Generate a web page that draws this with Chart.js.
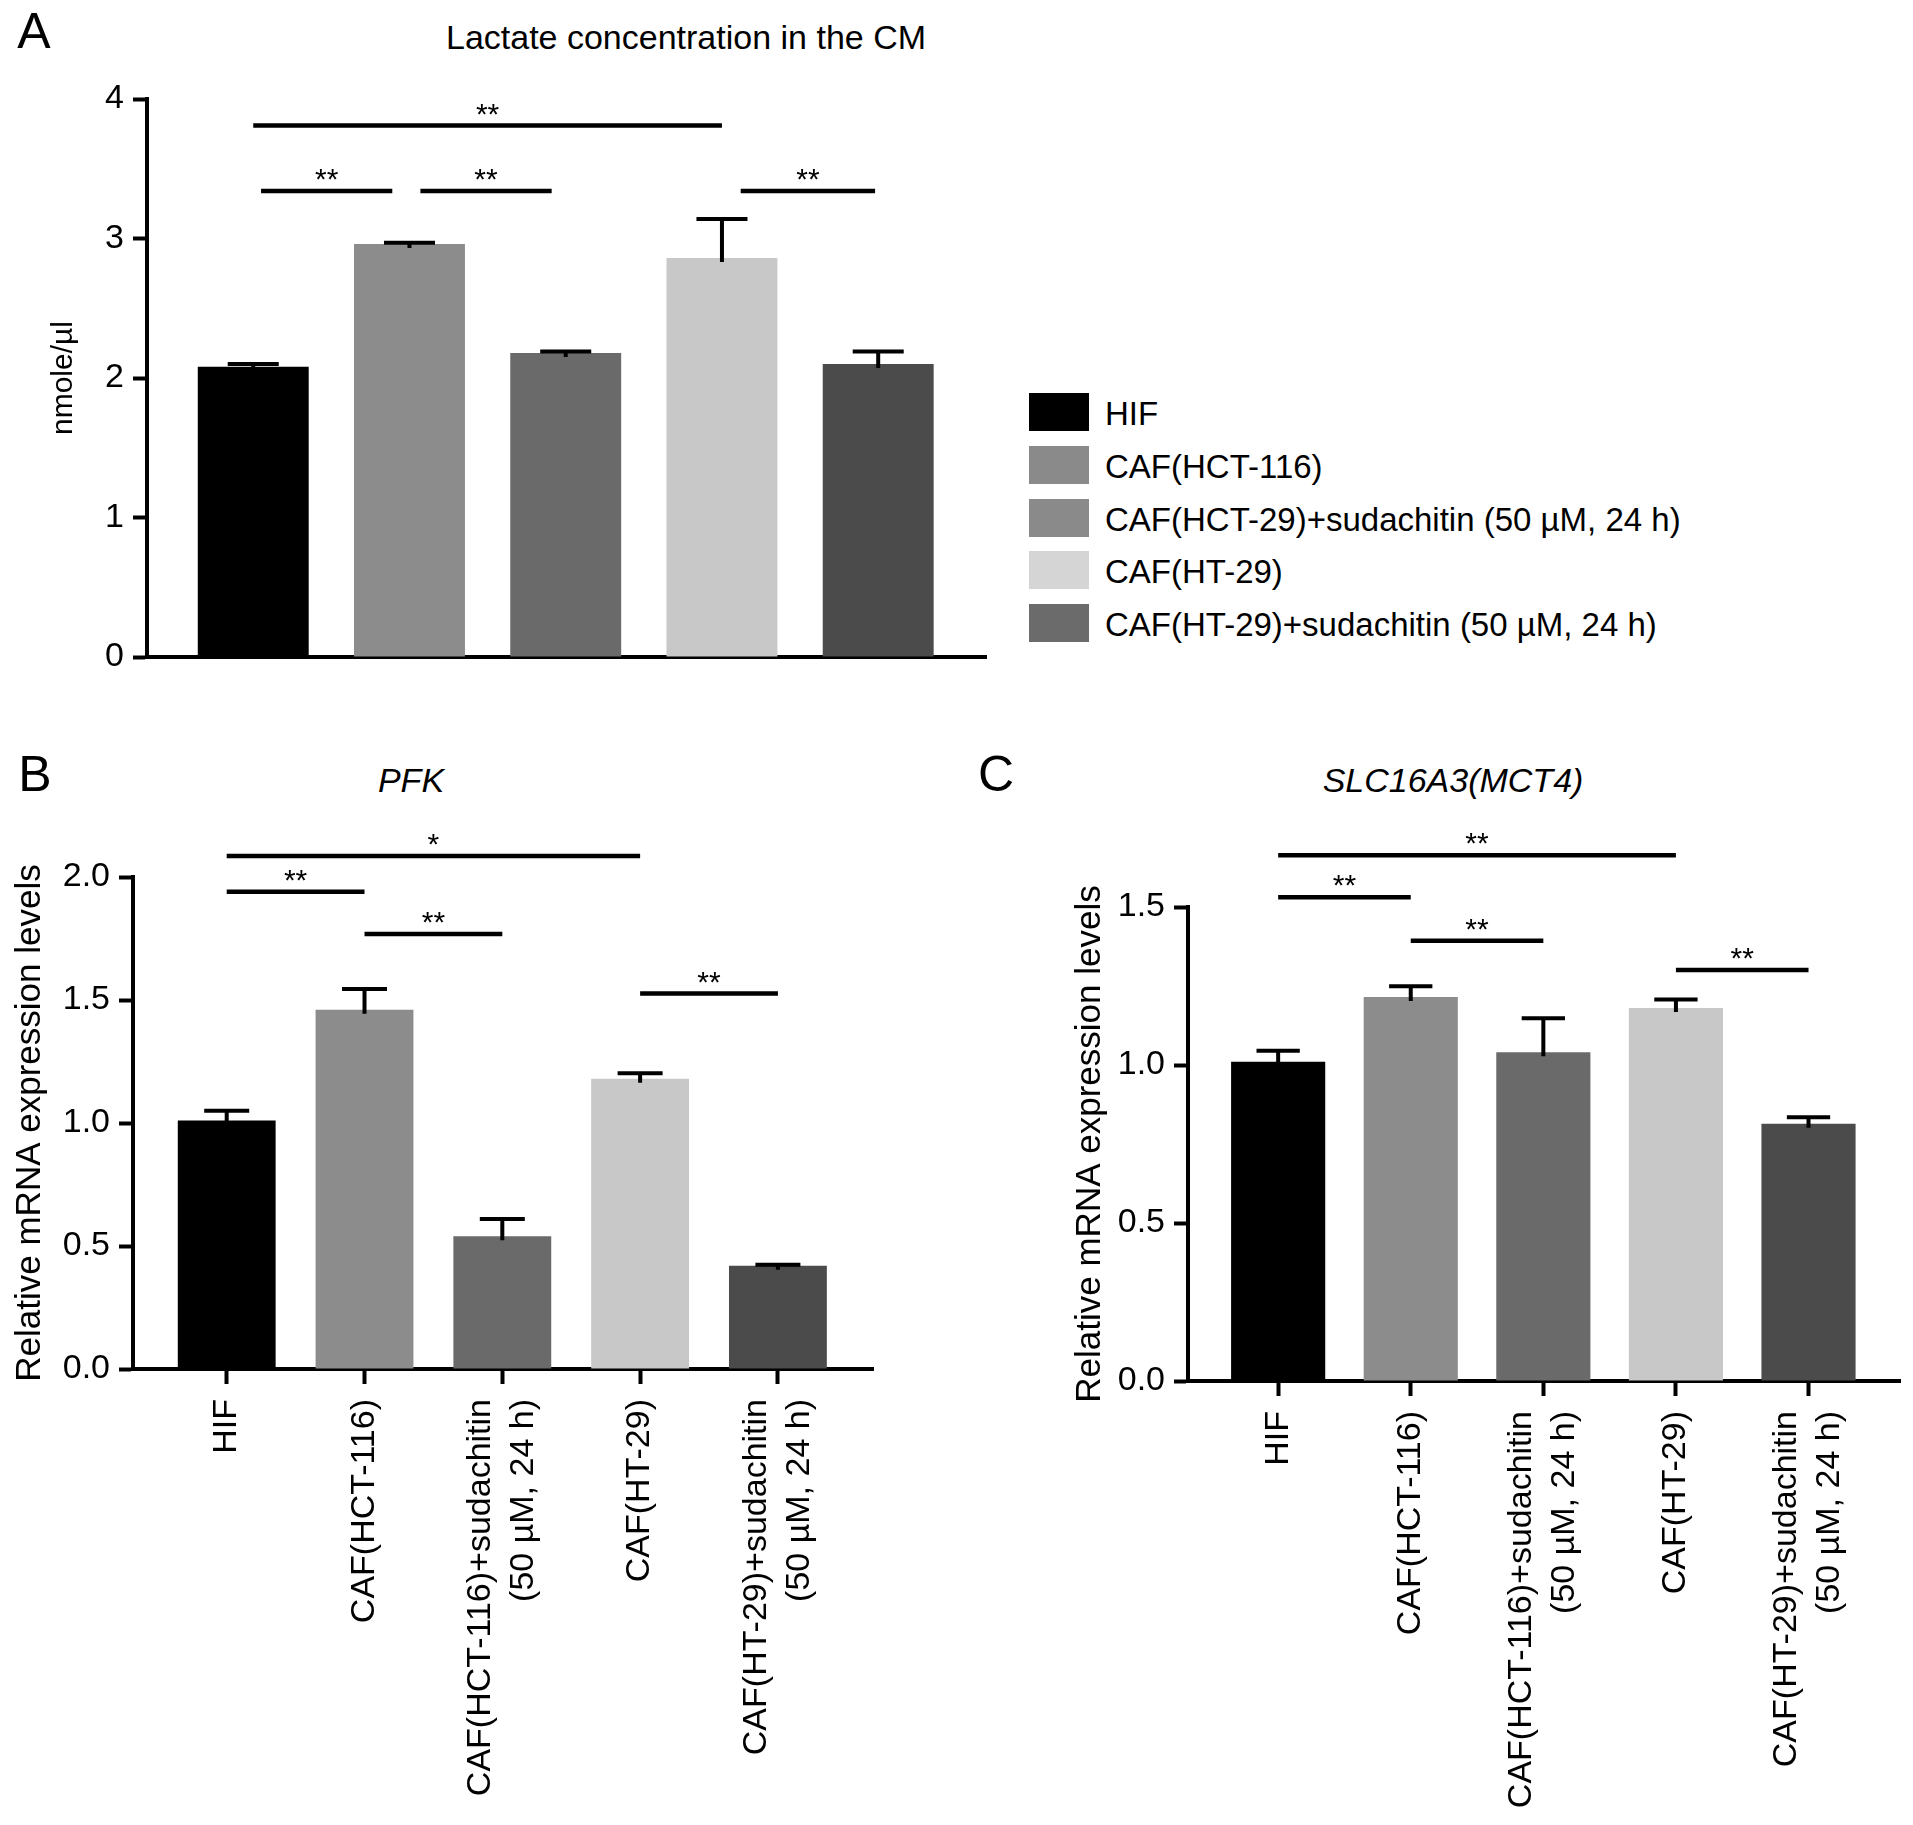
<!DOCTYPE html>
<html>
<head>
<meta charset="utf-8">
<script src="https://cdn.jsdelivr.net/npm/chart.js@4.4.0/dist/chart.umd.min.js"></script>
<style>
    body { margin: 0; background: #fff; }
    #page { position: relative; width: 1913px; height: 1825px; font-family: "Liberation Sans", Arial, Helvetica, sans-serif; color: #000; overflow: hidden; }
    #page canvas { position: absolute; }
    .txt { position: absolute; transform: translate(-50%, -50%); line-height: 1; white-space: nowrap; }
    .letter { font-size: 50px; }
    .title { font-size: 34px; }
    .title i { font-style: italic; }
    .leg-box { position: absolute; width: 60px; height: 38px; }
    .leg-txt { position: absolute; font-size: 33px; line-height: 38px; white-space: nowrap; }
</style>
</head>
<body>
<div id="page">
    <div class="txt letter" style="left:34px; top:31px;">A</div>
    <div class="txt title" style="left:686px; top:37px;">Lactate concentration in the CM</div>
    <div class="txt letter" style="left:35px; top:774px;">B</div>
    <div class="txt title" style="left:411px; top:780px;"><i>PFK</i></div>
    <div class="txt letter" style="left:996px; top:774px;">C</div>
    <div class="txt title" style="left:1453px; top:780px;"><i>SLC16A3(MCT4)</i></div>

    <canvas id="chartA" width="1000" height="700" style="left:0; top:0; width:1000px; height:700px;"></canvas>
    <canvas id="chartB" width="900" height="1085" style="left:0; top:740px; width:900px; height:1085px;"></canvas>
    <canvas id="chartC" width="913" height="1085" style="left:1000px; top:740px; width:913px; height:1085px;"></canvas>
    <div id="legend"></div>
</div>

<script>
// groups (same order in all three panels)
const groups = ["HIF", "CAF(HCT-116)", "CAF(HCT-116)+sudachitin (50 µM, 24 h)", "CAF(HT-29)", "CAF(HT-29)+sudachitin (50 µM, 24 h)"];
// legend of panel A, text as printed in the figure
const legendLabels = ["HIF", "CAF(HCT-116)", "CAF(HCT-29)+sudachitin (50 µM, 24 h)", "CAF(HT-29)", "CAF(HT-29)+sudachitin (50 µM, 24 h)"];
// x labels of panels B and C (two lines for the treated groups)
const xLabels = [["HIF"], ["CAF(HCT-116)"], ["CAF(HCT-116)+sudachitin", "(50 µM, 24 h)"], ["CAF(HT-29)"], ["CAF(HT-29)+sudachitin", "(50 µM, 24 h)"]];

// A: lactate, nmole/µl
const lactateMean = [2.08, 2.96, 2.18, 2.86, 2.10];
const lactateErr = [0.02, 0.01, 0.01, 0.28, 0.09];
const lactateTicks = [0, 1, 2, 3, 4];
// B: PFK relative mRNA
const pfkMean = [1.01, 1.46, 0.54, 1.18, 0.42];
const pfkErr = [0.04, 0.085, 0.07, 0.022, 0.004];
const pfkTicks = [0, 0.5, 1.0, 1.5, 2.0];
// C: SLC16A3(MCT4) relative mRNA
const mct4Mean = [1.01, 1.215, 1.04, 1.18, 0.814];
const mct4Err = [0.035, 0.034, 0.108, 0.027, 0.021];
const mct4Ticks = [0, 0.5, 1.0, 1.5];

// significance brackets: [from group, to group, level, stars]
// (panel A brackets between neighbours stop a little short of the bar centres)
const lactateSig = [[0, 3, 3.81, "**"], [0.05, 0.89, 3.34, "**"], [1.07, 1.91, 3.34, "**"], [3.12, 3.98, 3.34, "**"]];
const pfkSig = [[0, 3, 2.085, "*"], [0, 1, 1.94, "**"], [1, 2, 1.768, "**"], [3, 4, 1.526, "**"]];
const mct4Sig = [[0, 3, 1.664, "**"], [0, 1, 1.531, "**"], [1, 2, 1.393, "**"], [3, 4, 1.301, "**"]];

const barColors = ["#000000", "#8c8c8c", "#6a6a6a", "#c8c8c8", "#4b4b4b"];
const legendColors = ["#000000", "#8a8a8a", "#8a8a8a", "#d5d5d5", "#6b6b6b"];

const FONT = "'Liberation Sans', Arial, Helvetica, sans-serif";
Chart.defaults.font.family = FONT;
Chart.defaults.color = "#000";

function errorBars(means, errs) {
    return {
        id: "errorBars",
        afterDatasetsDraw(chart) {
            const ctx = chart.ctx;
            const y = chart.scales.y;
            const meta = chart.getDatasetMeta(0);
            ctx.save();
            ctx.strokeStyle = "#000";
            ctx.lineWidth = 4;
            meta.data.forEach(function (bar, i) {
                const top = y.getPixelForValue(means[i] + errs[i]);
                const half = bar.width * 0.23;
                ctx.beginPath();
                ctx.moveTo(bar.x, bar.y + 4);
                ctx.lineTo(bar.x, top);
                ctx.moveTo(bar.x - half, top);
                ctx.lineTo(bar.x + half, top);
                ctx.stroke();
            });
            ctx.restore();
        }
    };
}

function sigLines(list) {
    return {
        id: "sigLines",
        afterDraw(chart) {
            const ctx = chart.ctx;
            const x = chart.scales.x, y = chart.scales.y;
            ctx.save();
            ctx.strokeStyle = "#000";
            ctx.fillStyle = "#000";
            ctx.lineWidth = 4.5;
            ctx.font = "30px " + FONT;
            ctx.textAlign = "center";
            ctx.textBaseline = "alphabetic";
            list.forEach(function (s) {
                const x1 = x.getPixelForValue(s[0]);
                const x2 = x.getPixelForValue(s[1]);
                const py = y.getPixelForValue(s[2]);
                ctx.beginPath();
                ctx.moveTo(x1, py);
                ctx.lineTo(x2, py);
                ctx.stroke();
                ctx.fillText(s[3], (x1 + x2) / 2, py - 2);
            });
            ctx.restore();
        }
    };
}

// rotated category labels under the x axis
const xLabelPlugin = {
    id: "xLabels",
    afterDraw(chart) {
        const ctx = chart.ctx;
        const x = chart.scales.x;
        const base = chart.chartArea.bottom + 30;
        const lh = 43;
        ctx.save();
        ctx.fillStyle = "#000";
        ctx.font = "34px " + FONT;
        ctx.textAlign = "right";
        ctx.textBaseline = "middle";
        xLabels.forEach(function (lines, i) {
            const px = x.getPixelForValue(i);
            lines.forEach(function (line, k) {
                const cx = px + (k - (lines.length - 1) / 2) * lh;
                ctx.save();
                ctx.translate(cx, base);
                ctx.rotate(-Math.PI / 2);
                ctx.fillText(line, 0, 0);
                ctx.restore();
            });
        });
        ctx.restore();
    }
};

function makePanel(canvasId, cfg) {
    const canvas = document.getElementById(canvasId);
    const axisLine = { display: true, width: 4, color: "#000" };
    const plugins = [errorBars(cfg.means, cfg.errs), sigLines(cfg.sig)];
    if (cfg.xTicks) plugins.push(xLabelPlugin);

    return new Chart(canvas, {
        type: "bar",
        data: {
            datasets: [{
                data: cfg.means.map(function (v, i) { return { x: i, y: v }; }),
                backgroundColor: barColors,
                borderWidth: 0,
                barPercentage: 0.71,
                categoryPercentage: 1
            }]
        },
        options: {
            responsive: false,
            animation: false,
            devicePixelRatio: 1,
            layout: { padding: cfg.padding },
            plugins: { legend: { display: false }, tooltip: { enabled: false } },
            scales: {
                x: {
                    type: "linear",
                    offset: false,
                    min: -0.68,
                    max: 4.69,
                    afterBuildTicks: function (s) { s.ticks = groups.map(function (g, i) { return { value: i }; }); },
                    afterFit: function (s) { s.height = cfg.xHeight; },
                    ticks: { display: false },
                    border: axisLine,
                    grid: { display: cfg.xTicks, offset: false, drawOnChartArea: false, drawTicks: true, tickLength: 15, tickWidth: 4, tickColor: "#000" }
                },
                y: {
                    min: cfg.ticks[0],
                    max: cfg.ticks[cfg.ticks.length - 1],
                    afterBuildTicks: function (s) { s.ticks = cfg.ticks.map(function (v) { return { value: v }; }); },
                    afterFit: function (s) { s.width = cfg.yWidth; },
                    ticks: {
                        font: { size: 34 },
                        color: "#000",
                        padding: 9,
                        callback: function (v) { return Number(v).toFixed(cfg.decimals); }
                    },
                    border: axisLine,
                    grid: { display: true, drawOnChartArea: false, drawTicks: true, tickLength: 14, tickWidth: 4, tickColor: "#000" },
                    title: {
                        display: true,
                        text: cfg.yTitle,
                        color: "#000",
                        font: { size: cfg.yTitleSize },
                        padding: { top: cfg.yTitlePad, bottom: 0 }
                    }
                }
            }
        },
        plugins: plugins
    });
}

function buildLegend() {
    const holder = document.getElementById("legend");
    const rowTops = 393;
    const rowStep = 52.8;
    legendLabels.forEach(function (label, i) {
        const top = rowTops + i * rowStep;
        const box = document.createElement("div");
        box.className = "leg-box";
        box.style.left = "1029px";
        box.style.top = top + "px";
        box.style.background = legendColors[i];
        holder.appendChild(box);
        const txt = document.createElement("div");
        txt.className = "leg-txt";
        txt.style.left = "1105px";
        txt.style.top = (top + 2) + "px";
        txt.textContent = label;
        holder.appendChild(txt);
    });
}

document.addEventListener("DOMContentLoaded", function () {
    makePanel("chartA", {
        means: lactateMean, errs: lactateErr, ticks: lactateTicks, sig: lactateSig,
        decimals: 0, yTitle: "nmole/µl", yTitleSize: 30, yTitlePad: 46,
        yWidth: 147, xHeight: 0, xTicks: false,
        padding: { top: 99, right: 14, bottom: 43, left: 0 }
    });
    makePanel("chartB", {
        means: pfkMean, errs: pfkErr, ticks: pfkTicks, sig: pfkSig,
        decimals: 1, yTitle: "Relative mRNA expression levels", yTitleSize: 35, yTitlePad: 9,
        yWidth: 133, xHeight: 456, xTicks: true,
        padding: { top: 137, right: 27, bottom: 0, left: 0 }
    });
    makePanel("chartC", {
        means: mct4Mean, errs: mct4Err, ticks: mct4Ticks, sig: mct4Sig,
        decimals: 1, yTitle: "Relative mRNA expression levels", yTitleSize: 35, yTitlePad: 69,
        yWidth: 188, xHeight: 444, xTicks: true,
        padding: { top: 167, right: 13, bottom: 0, left: 0 }
    });
    buildLegend();
});
</script>
</body>
</html>
